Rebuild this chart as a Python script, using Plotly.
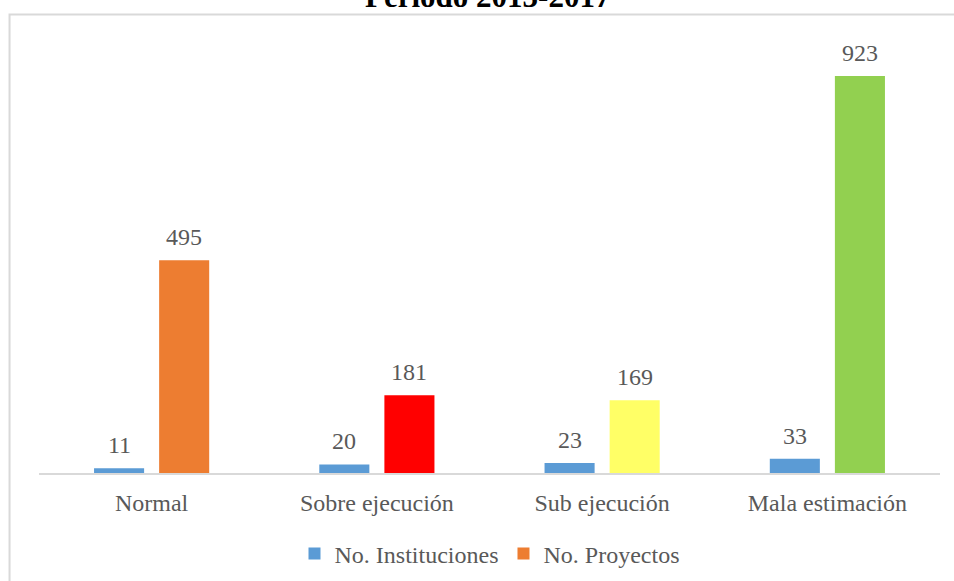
import plotly.graph_objects as go

categories = ["Normal", "Sobre ejecución", "Sub ejecución", "Mala estimación"]
instituciones = [11, 20, 23, 33]
proyectos = [495, 181, 169, 923]
proyectos_colors = ["#ED7D31", "#FF0000", "#FFFF66", "#92D050"]
series_names = ["No. Instituciones", "No. Proyectos"]
title_text = "Periodo 2013-2017"

FONT = "Liberation Serif, Times New Roman, serif"
TXT = "#595959"

fig = go.Figure()
fig.add_trace(go.Bar(x=categories, y=instituciones, name=series_names[0],
                     marker=dict(color="#5B9BD5", line=dict(width=0))))
fig.add_trace(go.Bar(x=categories, y=proyectos, name=series_names[1],
                     marker=dict(color=proyectos_colors, line=dict(width=0))))

annotations = []
for c, v in zip(categories, instituciones):
    annotations.append(dict(x=c, y=v, xref="x", yref="y", text=str(v), showarrow=False,
                            xshift=-32.5, yanchor="bottom", yshift=8,
                            font=dict(family=FONT, size=24, color=TXT)))
for c, v in zip(categories, proyectos):
    annotations.append(dict(x=c, y=v, xref="x", yref="y", text=str(v), showarrow=False,
                            xshift=32.5, yanchor="bottom", yshift=8,
                            font=dict(family=FONT, size=24, color=TXT)))
annotations.append(dict(x=0.498, y=1.1086, xref="paper", yref="paper", text="<b>" + title_text + "</b>",
                        showarrow=False, xanchor="center", yanchor="middle",
                        font=dict(family=FONT, size=31, color="#000000")))

fig.update_layout(
    width=954, height=581,
    margin=dict(l=39, r=14, t=43, b=108, autoexpand=False),
    paper_bgcolor="white", plot_bgcolor="white",
    barmode="group", bargap=0.422, bargroupgap=0.231,
    showlegend=True,
    legend=dict(orientation="h", x=0.5, xanchor="center", y=-0.188, yanchor="middle",
                font=dict(family=FONT, size=24, color=TXT), itemwidth=30,
                traceorder="normal"),
    xaxis=dict(showgrid=False, showline=True, linecolor="#D9D9D9", linewidth=2,
               ticks="", tickfont=dict(family=FONT, size=24, color=TXT), ticklabelstandoff=7),
    yaxis=dict(range=[0, 1000], visible=False, showgrid=False),
    annotations=annotations,
    shapes=[dict(type="rect", xref="paper", yref="paper", x0=-0.0327, x1=1.05, y0=-0.4, y1=1.066,
                 line=dict(color="#D9D9D9", width=2), fillcolor="rgba(0,0,0,0)", layer="below")],
)

fig.write_html("out.html", post_script="document.body.style.margin='0';",
               config={"displayModeBar": False})
